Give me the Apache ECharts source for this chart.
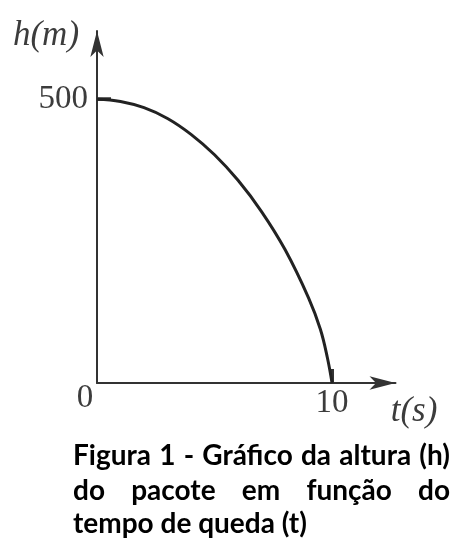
<!DOCTYPE html>
<html>
<head>
<meta charset="utf-8">
<script src="https://cdn.jsdelivr.net/npm/echarts@6/dist/echarts.min.js"></script>
<style>
html,body{margin:0;padding:0;background:#fff;}
#chart{width:461px;height:556px;}
</style>
</head>
<body>
<div id="chart"></div>
<script>
// Data
const timeValues = [0, 1, 2, 3, 4, 5, 6, 7, 8, 9, 9.5, 9.8, 10];
const heightValues = [500, 496, 485, 466, 438, 402, 357, 302, 235, 150, 95, 45, 0];
const yTickLabels = [500];
const xTickLabels = [10];
const yAxisTitle = 'h(m)';
const xAxisTitle = 't(s)';
const originLabel = '0';
const captionLines = [
  ['Figura', '1', '-', 'Gráfico', 'da', 'altura', '(h)'],
  ['do', 'pacote', 'em', 'função', 'do'],
  ['tempo', 'de', 'queda', '(t)']
];

const seriesData = timeValues.map((t, i) => [t, heightValues[i]]);

const axisColor = '#333';
const labelColor = '#3c3c3c';
const serif = '"Liberation Serif", "DejaVu Serif", serif';

// caption layout (justified first two lines)
const capFont = 'bold 28px Lato';
const capLeft = 73, capRight = 450;
const capY = [456, 491, 524];
const ctx = document.createElement('canvas').getContext('2d');
ctx.font = capFont;
const captionGraphics = [];
captionLines.forEach((words, li) => {
  const widths = words.map(w => ctx.measureText(w).width);
  const total = widths.reduce((a, b) => a + b, 0);
  const justify = li < captionLines.length - 1;
  const gap = justify ? (capRight - capLeft - total) / (words.length - 1) : ctx.measureText(' ').width;
  let x = capLeft;
  words.forEach((w, wi) => {
    captionGraphics.push({
      type: 'text', x: x, y: capY[li],
      style: { text: w, font: capFont, fill: '#000', verticalAlign: 'middle', align: 'left' }
    });
    x += widths[wi] + gap;
  });
});

const chart = echarts.init(document.getElementById('chart'), null, { renderer: 'canvas' });
chart.setOption({
  backgroundColor: '#fff',
  animation: false,
  grid: { left: 97, right: 65.5, top: 31, bottom: 173, containLabel: false },
  xAxis: {
    type: 'value', min: 0, max: 12.7,
    splitLine: { show: false },
    axisLine: { show: true, symbol: ['none', 'arrow'], symbolSize: [10, 26], lineStyle: { color: axisColor, width: 2 } },
    axisTick: { show: true, inside: true, length: 14, customValues: xTickLabels, lineStyle: { color: axisColor, width: 3 } },
    axisLabel: { show: true, customValues: xTickLabels, margin: 4, color: labelColor, fontFamily: serif, fontSize: 33 }
  },
  yAxis: {
    type: 'value', min: 0, max: 620,
    splitLine: { show: false },
    axisLine: { show: true, symbol: ['none', 'arrow'], symbolSize: [10, 26], lineStyle: { color: axisColor, width: 2 } },
    axisTick: { show: true, inside: true, length: 14, customValues: yTickLabels, lineStyle: { color: axisColor, width: 3.5 } },
    axisLabel: { show: true, customValues: yTickLabels, margin: 9, color: labelColor, fontFamily: serif, fontSize: 33 }
  },
  series: [{
    type: 'line',
    data: seriesData,
    smooth: 0.4,
    symbol: 'none',
    lineStyle: { color: '#222', width: 3 }
  }],
  graphic: [
    { type: 'text', x: 46, y: 36, style: { text: yAxisTitle, fill: labelColor, font: 'italic 35px ' + serif, align: 'center', verticalAlign: 'middle' } },
    { type: 'text', x: 414, y: 412, style: { text: xAxisTitle, fill: labelColor, font: 'italic 35px ' + serif, align: 'center', verticalAlign: 'middle' } },
    { type: 'text', x: 85, y: 398, style: { text: originLabel, fill: labelColor, font: '33px ' + serif, align: 'center', verticalAlign: 'middle' } }
  ].concat(captionGraphics)
});
</script>
</body>
</html>
